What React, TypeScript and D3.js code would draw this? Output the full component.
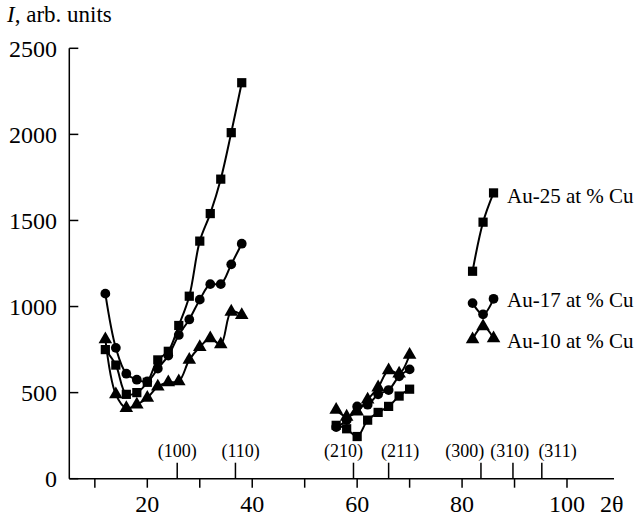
import React, { useRef, useEffect } from "react";
import * as d3 from "d3";

// 2θ positions of the three measured groups
const xLeft = [12, 14, 16, 18, 20, 22, 24, 26, 28, 30, 32, 34, 36, 38];
const xMid = [56, 58, 60, 62, 64, 66, 68, 70];
const xRight = [82, 84, 86];

// Au-25 at % Cu (squares)
const au25Left = [750, 660, 490, 500, 560, 690, 740, 890, 1060, 1380, 1540, 1740, 2010, 2300];
const au25Mid = [310, 290, 245, 340, 385, 420, 480, 520];
const au25Right = [1205, 1490, 1660];

// Au-17 at % Cu (circles)
const au17Left = [1075, 760, 610, 575, 565, 640, 715, 835, 925, 1040, 1130, 1130, 1245, 1365];
const au17Mid = [300, 340, 420, 430, 490, 515, 595, 635];
const au17Right = [1020, 955, 1045];

// Au-10 at % Cu (triangles)
const au10Left = [810, 490, 410, 430, 470, 535, 560, 565, 690, 765, 815, 780, 970, 950];
const au10Mid = [400, 360, 390, 460, 530, 630, 610, 720];
const au10Right = [810, 885, 815];

const seriesNames = ["Au-25 at % Cu", "Au-17 at % Cu", "Au-10 at % Cu"];

// reflections marked on the 2θ axis (tick position, label position)
const hklLabels = ["(100)", "(110)", "(210)", "(211)", "(300)", "(310)", "(311)"];
const hklPos = [25.7, 36.8, 59.3, 66.0, 83.6, 89.7, 95.2];
const hklLabelPos = [25.7, 37.8, 57.4, 68.2, 80.5, 89.1, 98.2];

const yTicks = [0, 500, 1000, 1500, 2000, 2500];
const xMajor = [20, 40, 60, 80, 100];
const xMinor = [10, 30, 50, 70, 90];

const App = () => {
  const container = useRef(null);

  const width = 639;
  const height = 516;

  useEffect(() => {
    const svg = d3.select(container.current);
    svg.selectAll("*").remove();

    const font = "Liberation Serif, Times New Roman, serif";

    const x = d3.scaleLinear().domain([5.13, 108.96]).range([69.3, 614]);
    const y = d3.scaleLinear().domain([0, 2500]).range([478.7, 48.3]);

    // axes
    svg
      .append("line")
      .attr("x1", x(5.13))
      .attr("x2", x(5.13))
      .attr("y1", y(2500))
      .attr("y2", y(0))
      .attr("stroke", "#000")
      .attr("stroke-width", 1.5);
    svg
      .append("line")
      .attr("x1", x(5.13))
      .attr("x2", x(108.96))
      .attr("y1", y(0))
      .attr("y2", y(0))
      .attr("stroke", "#000")
      .attr("stroke-width", 1.5);

    // y ticks point inward
    svg
      .selectAll(".ytick")
      .data(yTicks)
      .enter()
      .append("line")
      .attr("x1", x(5.13))
      .attr("x2", x(5.13) + 9)
      .attr("y1", (d) => y(d))
      .attr("y2", (d) => y(d))
      .attr("stroke", "#000")
      .attr("stroke-width", 1.5);

    svg
      .selectAll(".ylab")
      .data(yTicks)
      .enter()
      .append("text")
      .attr("x", 57)
      .attr("y", (d) => y(d))
      .attr("dy", "0.35em")
      .attr("text-anchor", "end")
      .attr("font-family", font)
      .attr("font-size", 24)
      .text((d) => d);

    // x ticks point down
    svg
      .selectAll(".xtick")
      .data(xMajor.concat(xMinor))
      .enter()
      .append("line")
      .attr("x1", (d) => x(d))
      .attr("x2", (d) => x(d))
      .attr("y1", y(0))
      .attr("y2", y(0) + 9)
      .attr("stroke", "#000")
      .attr("stroke-width", 1.5);

    svg
      .selectAll(".xlab")
      .data(xMajor)
      .enter()
      .append("text")
      .attr("x", (d) => x(d))
      .attr("y", 511.5)
      .attr("text-anchor", "middle")
      .attr("font-family", font)
      .attr("font-size", 24)
      .text((d) => d);

    svg
      .append("text")
      .attr("x", 600)
      .attr("y", 511.5)
      .attr("font-family", font)
      .attr("font-size", 24)
      .text("2θ");

    // y title
    const title = svg
      .append("text")
      .attr("x", 7)
      .attr("y", 22)
      .attr("font-family", font)
      .attr("font-size", 23);
    title.append("tspan").attr("font-style", "italic").text("I");
    title.append("tspan").text(", arb. units");

    // hkl markers
    svg
      .selectAll(".hkl")
      .data(hklPos)
      .enter()
      .append("line")
      .attr("x1", (d) => x(d))
      .attr("x2", (d) => x(d))
      .attr("y1", y(0))
      .attr("y2", y(0) - 16)
      .attr("stroke", "#000")
      .attr("stroke-width", 1.5);

    svg
      .selectAll(".hkllab")
      .data(hklLabelPos)
      .enter()
      .append("text")
      .attr("x", (d) => x(d))
      .attr("y", 457)
      .attr("text-anchor", "middle")
      .attr("font-family", font)
      .attr("font-size", 18)
      .text((d, i) => hklLabels[i]);

    const line = d3
      .line()
      .x((d) => x(d[0]))
      .y((d) => y(d[1]))
      .curve(d3.curveCatmullRom.alpha(0.5));

    const groups = [
      { symbol: d3.symbolSquare, size: 85, parts: [au25Left, au25Mid, au25Right] },
      { symbol: d3.symbolCircle, size: 75, parts: [au17Left, au17Mid, au17Right] },
      { symbol: d3.symbolTriangle, size: 80, parts: [au10Left, au10Mid, au10Right] },
    ];
    const xs = [xLeft, xMid, xRight];

    groups.forEach((g) => {
      g.parts.forEach((vals, k) => {
        const pts = vals.map((v, i) => [xs[k][i], v]);
        svg
          .append("path")
          .attr("d", line(pts))
          .attr("fill", "none")
          .attr("stroke", "#000")
          .attr("stroke-width", 2);
        svg
          .selectAll(null)
          .data(pts)
          .enter()
          .append("path")
          .attr("d", d3.symbol().type(g.symbol).size(g.size))
          .attr("transform", (d) => `translate(${x(d[0])},${y(d[1])})`)
          .attr("fill", "#000");
      });
    });

    // legend labels beside the right-hand group
    const legendY = [196, 300, 341];
    svg
      .selectAll(".legend")
      .data(seriesNames)
      .enter()
      .append("text")
      .attr("x", 507)
      .attr("y", (d, i) => legendY[i])
      .attr("dy", "0.35em")
      .attr("font-family", font)
      .attr("font-size", 21)
      .text((d) => d);
  }, []);

  return (
    <svg
      ref={container}
      width={width}
      height={height}
      fontFamily="Liberation Serif, serif"
      style={{ position: "absolute", left: 0, top: 0, background: "#fff" }}
    />
  );
};

export default App;
